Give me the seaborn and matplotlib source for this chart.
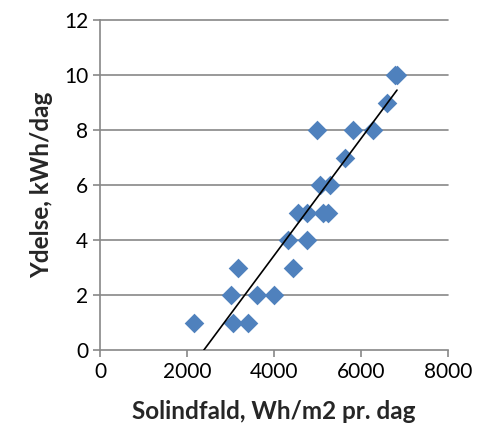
import seaborn as sns
import pandas as pd
import matplotlib.pyplot as plt
import numpy as np

# solindfald (Wh/m2 pr. dag) og ydelse (kWh/dag)
solindfald = [2150, 3010, 3180, 3060, 3410, 3620, 4010, 4330, 4430, 4750,
              4560, 4770, 5130, 5250, 5060, 5290, 5000, 5820, 6280, 5630,
              6610, 6780, 6830]
ydelse = [1, 2, 3, 1, 1, 2, 2, 4, 3, 4,
          5, 5, 5, 5, 6, 6, 8, 8, 8, 7,
          9, 10, 10]
x_ticks = [0, 2000, 4000, 6000, 8000]
y_ticks = [0, 2, 4, 6, 8, 10, 12]

df = pd.DataFrame({'x': solindfald, 'y': ydelse})

sns.set_style('white')
plt.rcParams['font.family'] = ['Lato', 'DejaVu Sans']

fig = plt.figure(figsize=(4.79, 4.4), dpi=100)
ax = fig.add_axes([0.209, 0.2045, 0.726, 0.75])

for yt in y_ticks[1:]:
    ax.axhline(yt, color='#888888', lw=1.2, zorder=0, clip_on=False)

sns.regplot(data=df, x='x', y='y', ax=ax, ci=None, truncate=True,
            marker='D',
            scatter_kws={'s': 100, 'color': '#4F81BD', 'linewidths': 0, 'alpha': 1, 'zorder': 2},
            line_kws={'color': 'black', 'lw': 1.2, 'zorder': 3})

ax.set_xlim(0, 8000)
ax.set_ylim(0, 12)
ax.set_xticks(x_ticks)
ax.set_yticks(y_ticks)
ax.tick_params(axis='both', labelsize=15, colors='#888888', labelcolor='black',
               direction='out', length=5, width=1.2, bottom=True, left=True)
for s in ['top', 'right']:
    ax.spines[s].set_visible(False)
for s in ['left', 'bottom']:
    ax.spines[s].set_color('#888888')
    ax.spines[s].set_linewidth(1.2)

ax.set_xlabel('Solindfald, Wh/m2 pr. dag', fontsize=17.5, fontweight='bold', labelpad=13)
ax.set_ylabel('Ydelse, kWh/dag', fontsize=17.5, fontweight='bold', labelpad=8)

fig.savefig('out.png', dpi=100)
